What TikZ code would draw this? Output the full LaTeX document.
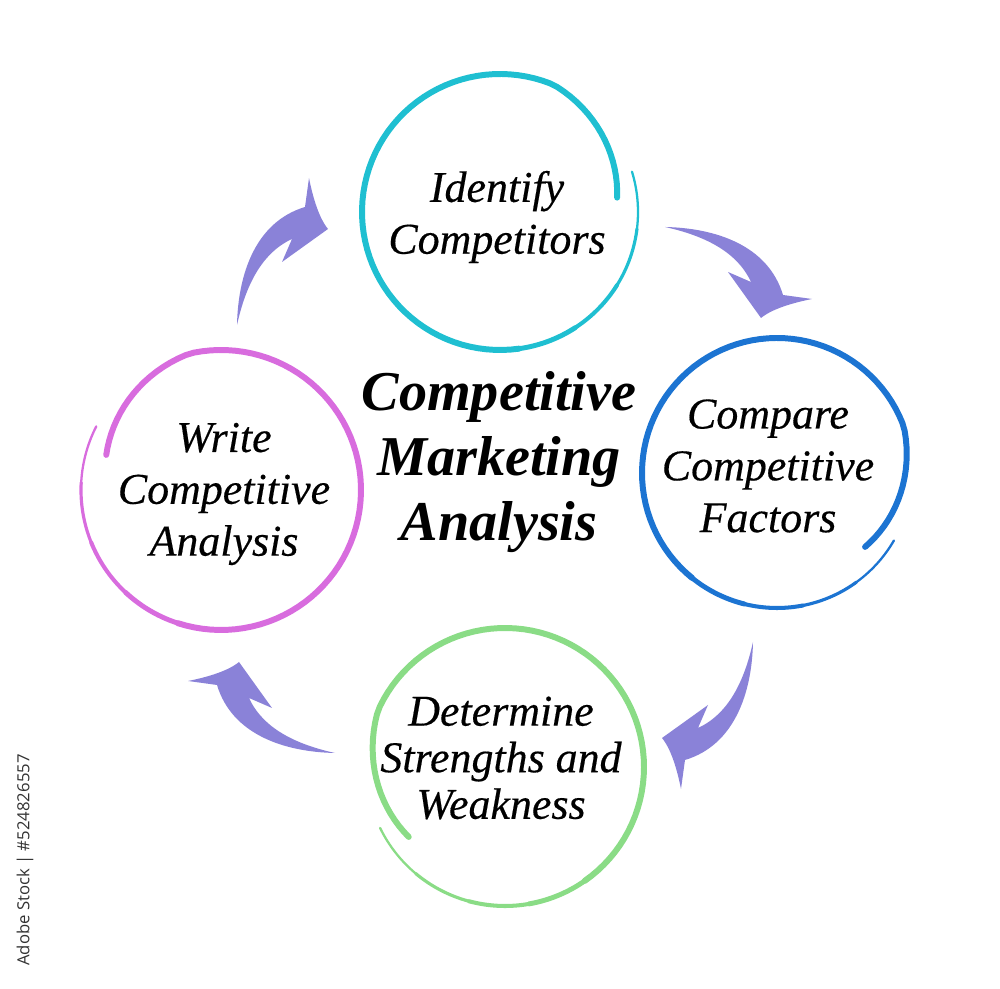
\documentclass[tikz,border=0pt]{standalone}
\usepackage{fontspec}
\setmainfont{Liberation Serif}[ItalicFeatures={FakeBold=0.35}]
\setsansfont{Open Sans}
\usepackage{xcolor}
\usepackage{tikz}
\usetikzlibrary{calc}

\definecolor{ringcyan}{HTML}{1FBFD1}
\definecolor{ringblue}{HTML}{1C74D2}
\definecolor{ringgreen}{HTML}{8ADC86}
\definecolor{ringpink}{HTML}{D86CDE}
\definecolor{arrowviolet}{HTML}{8A82D8}

% centre x, centre y, radius, start angle, direction, colour
\newcommand{\brushring}[6]{%
  \foreach \from/\to/\w in {0/25/1.3, 24/50/1.8, 49/75/2.3, 74/100/2.8, 99/370/3.4}
    \draw[ring, #6, line width=\w pt] plot[domain=\from:\to, samples=80]
      ({#1+(#3-20*max(0,(\x-310)/60))*cos(#4+(#5)*\x)}, {#2+(#3-20*max(0,(\x-310)/60))*sin(#4+(#5)*\x)});
}

\begin{document}
\begin{tikzpicture}[x=0.2mm, y=0.2mm,
    stage/.style={align=center, text=black, inner sep=0pt, font=\itshape\fontsize{25}{29.5}\selectfont},
    title/.style={align=center, text=black, inner sep=0pt, font=\bfseries\itshape\fontsize{32}{37}\selectfont},
    ring/.style={line cap=round, line join=round},
    swoop/.style={fill=arrowviolet}
]
\useasboundingbox (0,0) rectangle (1000,989);

\coordinate (hub) at (500,499);

\brushring{500}{777}{138}{17}{-1}{ringcyan}
\brushring{777}{516}{135}{-30}{-1}{ringblue}
\brushring{505}{222}{139}{206}{1}{ringgreen}
\brushring{221}{499}{140}{153}{1}{ringpink}

\foreach \turn/\dx/\dy in {0/0/0, -90/0/0, -180/-10/13, -270/0/0}
  \fill[swoop, shift={($(hub)+(\dx,\dy)$)}, rotate=\turn]
    (-263,165) .. controls (-262,215) and (-245,268) .. (-195,283)
    -- (-191,312) .. controls (-187,292) and (-181,272) .. (-172,261)
    -- (-218,228) -- (-208,251)
    .. controls (-232,240) and (-252,215) .. (-263,165) -- cycle;

\node[stage] (identify) at (497,772) {Identify\\Competitors};
\node[stage] (compare) at (768,523) {Compare\\Competitive\\Factors};
\node[stage, font=\itshape\fontsize{25}{26.5}\selectfont] (determine) at (501,231) {Determine\\Strengths and\\Weakness};
\node[stage] (write) at (224,495) {Write\\Competitive\\Analysis};
\node[title] (cma) at (499,527) {Competitive\\Marketing\\Analysis};

\node[rotate=90, text=black!80, inner sep=0pt, font=\sffamily\fontsize{9.5}{11}\selectfont] (stock) at (25,129) {Adobe Stock | \#524826557};
\end{tikzpicture}
\end{document}
